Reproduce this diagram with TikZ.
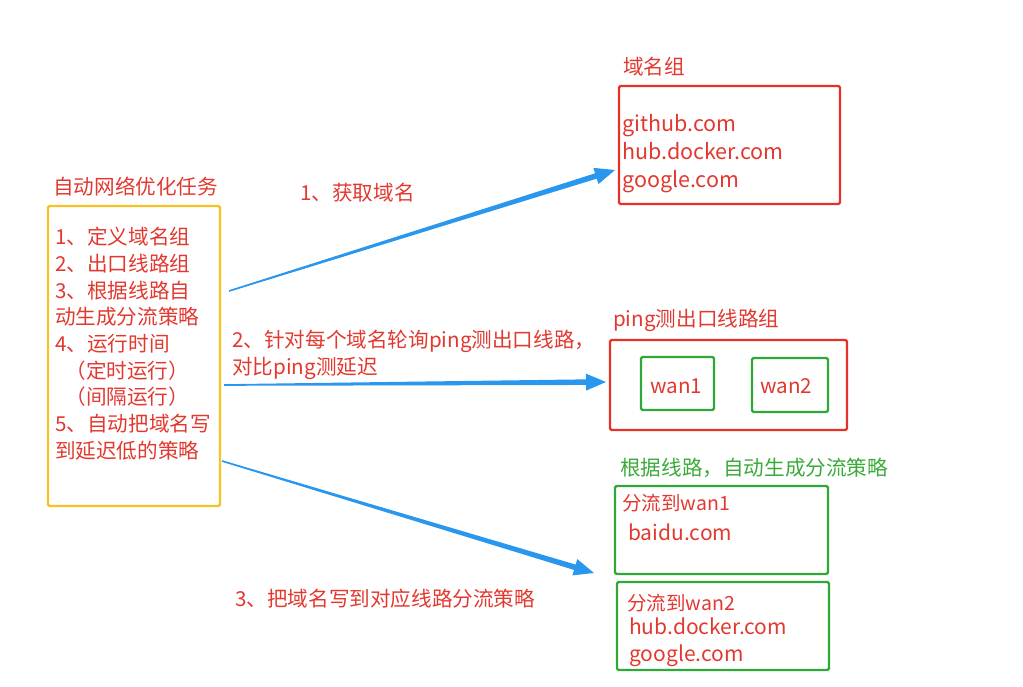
\documentclass[tikz,border=0pt]{standalone}
\usepackage{fontspec}
\setmainfont{Noto Sans CJK SC}
\usetikzlibrary{calc}
\definecolor{tred}{HTML}{E2382F}
\definecolor{bred}{HTML}{E53128}
\definecolor{tgreen}{HTML}{3BAA3A}
\definecolor{bgreen}{HTML}{2FA838}
\definecolor{byellow}{HTML}{F6C324}
\definecolor{ablue}{HTML}{2A97EE}
\newcommand{\taparrow}[2]{%
  \coordinate (hb) at ($(#2)!20pt!(#1)$);
  \fill[ablue] ($(#1)!0.8pt!90:(#2)$) -- ($(hb)!2.8pt!90:(#2)$) -- ($(hb)!8.5pt!90:(#2)$) -- (#2)
     -- ($(hb)!8.5pt!-90:(#2)$) -- ($(hb)!2.8pt!-90:(#2)$) -- ($(#1)!0.8pt!-90:(#2)$) -- cycle;}
\begin{document}
\begin{tikzpicture}[x=1pt,y=-1pt,
  txt/.style={text=tred,font=\fontsize{20.6}{26.7}\selectfont,inner sep=0pt,anchor=west,align=left},
  gtxt/.style={txt,text=tgreen},
  redbox/.style={draw=bred,line width=2.4pt,rounded corners=1.5pt},
  greenbox/.style={draw=bgreen,line width=2.4pt,rounded corners=1.5pt},
  yellowbox/.style={draw=byellow,line width=2.4pt,rounded corners=2pt}]
\useasboundingbox (0,0) rectangle (1023,687);
% left task box
\node[txt] (ttitle) at (53,187) {自动网络优化任务};
\draw[yellowbox] (48,206) rectangle (220,506);
\node[txt,anchor=north west] (tasktxt) at (55,227) {1、定义域名组\\2、出口线路组\\3、根据线路自\\动生成分流策略\\4、运行时间\\\hspace*{0.5em}（定时运行）\\\hspace*{0.5em}（间隔运行）\\5、自动把域名写\\到延迟低的策略};
% domain group
\node[txt] (dtitle) at (623,67) {域名组};
\draw[redbox] (619,86) rectangle (840,204);
\node[txt,anchor=north west,font=\fontsize{21.5}{28}\selectfont] (domtxt) at (622,114) {github.com\\hub.docker.com\\google.com};
% ping group
\node[txt] (ptitle) at (613,320) {ping测出口线路组};
\draw[redbox] (610,340) rectangle (847,430);
\draw[greenbox] (641,357) rectangle (714,410);
\draw[greenbox] (752,358) rectangle (828,412);
\node[txt] (wan1) at (650,386) {wan1};
\node[txt] (wan2) at (760,386) {wan2};
% policies
\node[gtxt] (gtitle) at (620,468) {根据线路，自动生成分流策略};
\draw[greenbox] (615,486) rectangle (828,574);
\node[txt,font=\fontsize{19.5}{26}\selectfont] (p1t) at (622,503) {分流到wan1};
\node[txt,font=\fontsize{21}{27}\selectfont] (p1d) at (628,532) {baidu.com};
\draw[greenbox] (617,582) rectangle (829,670);
\node[txt,font=\fontsize{19.5}{26}\selectfont] (p2t) at (627,603) {分流到wan2};
\node[txt,anchor=north west,font=\fontsize{21}{27}\selectfont] (p2d) at (629,618) {hub.docker.com\\google.com};
% arrow labels
\node[txt] (l1) at (300,193) {1、获取域名};
\node[txt,anchor=north west] (l2) at (232,330) {2、针对每个域名轮询ping测出口线路，\\对比ping测延迟};
\node[txt] (l3) at (235,599) {3、把域名写到对应线路分流策略};
% arrows
\coordinate (s1) at (229,291); \coordinate (e1) at (615,170);
\coordinate (s2) at (224,385); \coordinate (e2) at (606,382);
\coordinate (s3) at (222,461); \coordinate (e3) at (594,573);
\taparrow{s1}{e1}
\taparrow{s2}{e2}
\taparrow{s3}{e3}
\end{tikzpicture}
\end{document}
